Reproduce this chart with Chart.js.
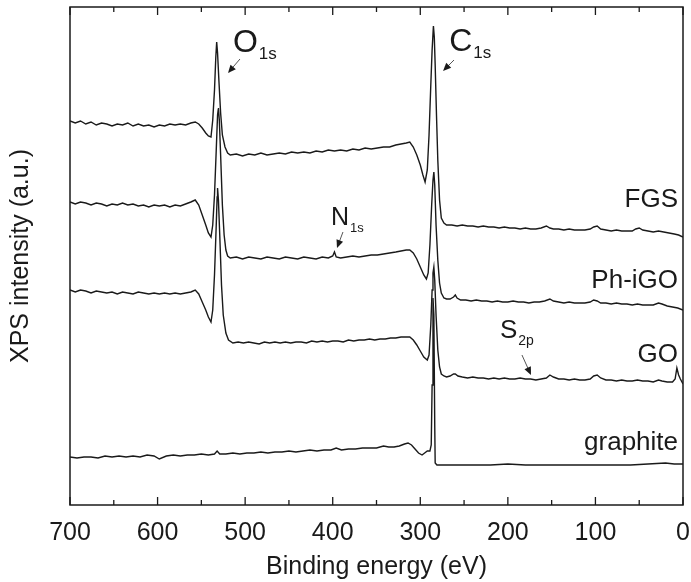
<!DOCTYPE html>
<html>
<head>
<meta charset="utf-8">
<script src="https://cdn.jsdelivr.net/npm/chart.js@4.4.1/dist/chart.umd.min.js"></script>
<style>
  html, body { margin: 0; padding: 0; background: #fff; }
</style>
</head>
<body>
<canvas id="xps" width="691" height="582"></canvas>
<script>
// binding energy (eV) and intensity (a.u., offset stacked) for each sample
const fgsEnergy = [700,694,688,682,676,670,664,658,652,646,640,634,628,622,616,610,604,598,592,586,580,574,568,562,557,553,549,545,542,539,537,535,533.5,532.5,531.5,530,528,526,523,520,517,510,503,496,489,482,475,468,461,454,447,440,433,426,419,412,405,398,391,384,377,370,363,356,349,342,335,328,322,316,312,308,304,300,297,294.5,292,290,288,286.5,285,284,283,281.5,280,278,276,273,270,264,258,252,246,240,234,228,222,216,210,204,198,192,186,180,174,168,162,156,152,148,142,136,130,124,118,112,106,102,98,94,88,82,76,70,64,58,54,50,46,40,34,28,22,16,10,5,0];
const fgsValues = [384,382,384,381,383,380,382,381,379,381,380,382,379,381,379,380,378,380,379,381,380,381,380,382,383,381,377,372,369,368,385,415,448,463,452,425,392,370,358,352,350,351,349,351,350,352,350,351,352,351,353,352,353,352,354,353,355,354,355,354,356,355,357,356,357,358,358,360,361,362,363,358,350,340,330,323,335,370,420,455,479,468,440,390,345,305,287,282,280,280,279,280,279,279,278,279,278,278,277,278,277,277,276,277,276,276,277,279,277,276,276,275,276,275,275,275,276,278,279,276,275,274,275,274,274,274,276,277,275,274,273,274,273,272,271,270,268];

const phiEnergy = [700,694,688,682,676,670,664,658,652,646,640,634,628,622,616,610,604,598,592,586,580,574,568,562,557,553,549,545,542,539,537,535,533,531.5,530.5,529.5,528,526,524,522,520,517,510,503,496,489,482,475,468,461,454,447,440,433,426,419,412,405,400,398,396,391,384,377,370,363,356,349,342,335,328,322,316,312,308,304,300,296,293,291,289,287,285.5,284.5,283.5,282,280,278,276,273,270,266,262,260,258,254,248,242,236,230,224,218,212,206,200,194,188,182,176,170,164,158,152,148,142,136,130,124,118,112,106,102,98,94,88,82,76,70,64,58,52,46,40,34,28,24,18,12,6,0];
const phiValues = [303,301,303,302,300,302,301,299,301,300,302,300,301,299,300,298,300,299,300,298,300,299,301,303,305,300,290,280,272,268,280,310,355,390,397,385,350,300,270,255,249,247,248,246,248,247,246,248,247,246,248,247,246,248,247,246,248,247,249,253,248,247,248,249,248,249,250,250,251,252,253,254,255,255,252,246,238,230,226,232,260,300,325,333,320,280,245,222,212,207,206,206,208,210,207,205,205,204,205,204,204,203,204,203,203,204,203,203,202,203,203,204,206,204,203,202,203,202,202,202,203,205,204,202,202,201,202,201,201,200,201,200,200,200,202,201,199,198,197,195];

const goEnergy = [700,694,688,682,676,670,664,658,652,646,640,634,628,622,616,610,604,598,592,586,580,574,568,562,557,553,549,545,542,539,537,535,533,532,531.5,530.5,529,527,525,522,519,514,508,502,496,490,484,478,472,466,460,454,448,442,436,430,424,418,412,406,400,394,388,382,376,370,364,358,352,346,340,334,328,322,316,312,308,304,300,296,292,290,288,286.5,285.5,284.5,283.5,282,280,278,276,273,270,266,262,260,257,252,246,240,234,228,222,216,210,204,198,192,186,180,174,168,162,156,152,148,142,136,130,124,118,112,106,102,98,94,88,82,76,70,64,58,52,46,40,34,28,24,18,12,9,7,5,3,0];
const goValues = [215,213,215,214,212,214,213,212,213,211,213,212,211,213,212,211,212,211,212,211,212,211,212,213,215,211,203,195,188,183,195,230,280,308,317,305,270,220,190,172,165,162,163,162,163,162,161,163,162,163,162,163,162,163,163,162,164,163,164,163,164,164,163,165,164,165,165,166,165,166,166,167,167,168,168,168,165,160,154,148,145,150,180,215,232,238,225,190,155,138,131,129,128,129,131,131,129,128,127,128,127,127,126,127,126,127,126,126,127,126,126,125,126,127,130,128,126,126,125,126,125,125,126,129,130,127,125,125,124,125,124,124,125,124,124,123,125,124,123,123,126,137,130,126,121];

const graphiteEnergy = [700,692,684,676,668,660,652,644,636,628,620,612,604,598,590,582,574,566,558,550,542,535,532,529,522,514,506,498,490,482,474,466,458,450,442,434,426,418,410,402,396,390,382,374,366,358,350,342,336,330,324,318,314,310,306,302,298,295,292,289,287.5,286.5,285.5,284.5,283.5,283,281,276,270,260,240,220,200,180,160,140,120,100,80,60,40,20,10,0];
const graphiteValues = [48,47,48,48,47,49,48,49,48,49,48,50,49,46,49,50,49,50,50,51,50,51,54,51,51,52,51,52,52,53,52,53,53,54,53,54,55,54,55,55,57,55,56,56,57,57,57,59,58,58,59,61,62,60,56,52,50,52,54,54,60,120,207,190,80,42,40,40,40,40,40,40,41,40,40,40,40,40,40,40,41,42,41,41];

const sampleNames = ['FGS', 'Ph-iGO', 'GO', 'graphite'];
const xTicks = [700, 600, 500, 400, 300, 200, 100, 0];

const FONT = '"Liberation Sans", Arial, sans-serif';
const INK = '#1a1a1a';

// text labels placed in data coordinates (eV, intensity)
const sampleLabels = [
  { text: 'FGS', e: 5.7, i: 298 },
  { text: 'Ph-iGO', e: 5.7, i: 217 },
  { text: 'GO', e: 5.7, i: 143 },
  { text: 'graphite', e: 5.7, i: 55 }
];
const peakLabels = [
  { main: 'O', sub: '1s', e: 514, i: 453, size: 32, from: [505.9, 446], to: [519.6, 432] },
  { main: 'C', sub: '1s', e: 267, i: 454, size: 32, from: [261.5, 445], to: [274, 434] },
  { main: 'N', sub: '1s', e: 402, i: 280, size: 25, from: [388.3, 273], to: [395.1, 257] },
  { main: 'S', sub: '2p', e: 209, i: 167, size: 26, from: [183.9, 150], to: [173.6, 130] }
];

function toPoints(xs, ys) {
  return xs.map((x, k) => ({ x: x, y: ys[k] }));
}

const series = [
  [fgsEnergy, fgsValues],
  [phiEnergy, phiValues],
  [goEnergy, goValues],
  [graphiteEnergy, graphiteValues]
];

const decor = {
  id: 'decor',
  afterDatasetsDraw(chart) {
    const ctx = chart.ctx;
    const xs = chart.scales.x, ys = chart.scales.y;
    const a = chart.chartArea;
    ctx.save();
    ctx.strokeStyle = INK;
    ctx.lineWidth = 1.5;
    ctx.strokeRect(a.left, a.top, a.right - a.left, a.bottom - a.top);

    // inward ticks top and bottom, major every 100, minor at 50
    ctx.lineWidth = 1.3;
    for (let v = 0; v <= 700; v += 50) {
      const px = xs.getPixelForValue(v);
      const len = v % 100 === 0 ? 8 : 5;
      ctx.beginPath();
      ctx.moveTo(px, a.bottom); ctx.lineTo(px, a.bottom - len);
      ctx.moveTo(px, a.top); ctx.lineTo(px, a.top + len);
      ctx.stroke();
    }

    ctx.fillStyle = INK;
    ctx.textBaseline = 'alphabetic';
    ctx.textAlign = 'right';
    ctx.font = '26px ' + FONT;
    sampleLabels.forEach(l => {
      ctx.fillText(l.text, xs.getPixelForValue(l.e), ys.getPixelForValue(l.i));
    });

    ctx.textAlign = 'left';
    peakLabels.forEach(p => {
      const px = xs.getPixelForValue(p.e), py = ys.getPixelForValue(p.i);
      ctx.font = p.size + 'px ' + FONT;
      ctx.fillText(p.main, px, py);
      const w = ctx.measureText(p.main).width;
      ctx.font = Math.round(p.size * 0.53) + 'px ' + FONT;
      ctx.fillText(p.sub, px + w + 1, py + 7);

      const x1 = xs.getPixelForValue(p.from[0]), y1 = ys.getPixelForValue(p.from[1]);
      const x2 = xs.getPixelForValue(p.to[0]), y2 = ys.getPixelForValue(p.to[1]);
      const ang = Math.atan2(y2 - y1, x2 - x1);
      ctx.strokeStyle = '#555';
      ctx.lineWidth = 1;
      ctx.beginPath(); ctx.moveTo(x1, y1); ctx.lineTo(x2 - 4 * Math.cos(ang), y2 - 4 * Math.sin(ang)); ctx.stroke();
      ctx.fillStyle = INK;
      ctx.beginPath();
      ctx.moveTo(x2, y2);
      ctx.lineTo(x2 - 8 * Math.cos(ang) + 3.5 * Math.sin(ang), y2 - 8 * Math.sin(ang) - 3.5 * Math.cos(ang));
      ctx.lineTo(x2 - 8 * Math.cos(ang) - 3.5 * Math.sin(ang), y2 - 8 * Math.sin(ang) + 3.5 * Math.cos(ang));
      ctx.closePath(); ctx.fill();
    });
    ctx.restore();
  }
};

new Chart(document.getElementById('xps'), {
  type: 'line',
  data: {
    datasets: series.map((s, k) => ({
      label: sampleNames[k],
      data: toPoints(s[0], s[1]),
      borderColor: INK,
      borderWidth: 1.4,
      pointRadius: 0,
      tension: 0,
      fill: false
    }))
  },
  options: {
    responsive: false,
    animation: false,
    devicePixelRatio: 1,
    layout: { padding: { top: 7, right: 8, left: 0, bottom: 0 } },
    plugins: { legend: { display: false }, tooltip: { enabled: false } },
    scales: {
      x: {
        type: 'linear', reverse: true, min: 0, max: 700,
        afterBuildTicks: s => { s.ticks = xTicks.map(v => ({ value: v })); },
        ticks: { autoSkip: false, maxRotation: 0, color: INK, padding: 5, font: { family: FONT, size: 25 } },
        grid: { display: false },
        border: { display: false },
        title: { display: true, text: 'Binding energy (eV)', color: INK, font: { family: FONT, size: 25 }, padding: { top: 0, bottom: 0 } },
        afterFit: s => { s.height = 77; s.paddingLeft = 0; s.paddingRight = 6; }
      },
      y: {
        min: 0, max: 498,
        ticks: { display: false },
        grid: { display: false },
        border: { display: false },
        title: { display: true, text: 'XPS intensity (a.u.)', color: INK, font: { family: FONT, size: 25 }, padding: { top: 6, bottom: 0 } },
        afterFit: s => { s.width = 70; }
      }
    }
  },
  plugins: [decor]
});
</script>
</body>
</html>
